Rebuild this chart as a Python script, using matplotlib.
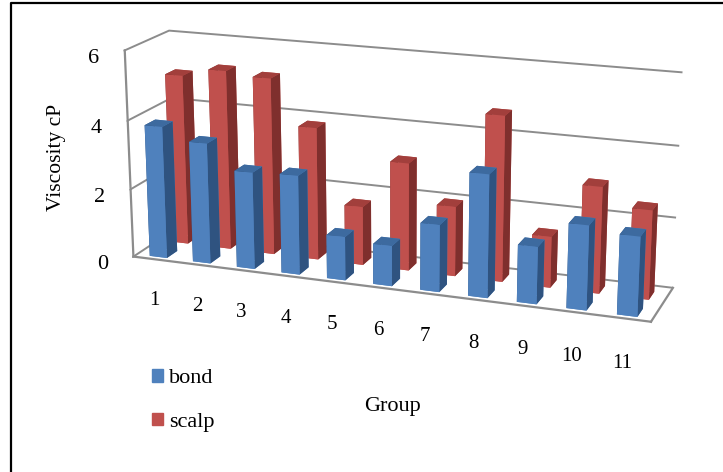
"""Barras 3D de viscosidad por grupo (bond / scalp)."""

import matplotlib

matplotlib.use("Agg")
import matplotlib.pyplot as plt
from matplotlib.lines import Line2D
from matplotlib.patches import Patch

GROUPS = [1, 2, 3, 4, 5, 6, 7, 8, 9, 10, 11]
BOND = [3.85, 3.5, 2.8, 2.85, 1.25, 1.15, 1.9, 3.45, 1.6, 2.35, 2.2]
SCALP = [5.0, 5.25, 5.15, 3.85, 1.7, 3.1, 2.0, 4.7, 1.45, 3.0, 2.5]
Z_TICKS = [0, 2, 4, 6]

BLUE = ("#4F81BD", "#3D6A9F", "#2F5380")
RED = ("#C0504D", "#A23F3C", "#7F2F2D")
GRAY = "#8C8C8C"

plt.rcParams["font.family"] = ["Liberation Serif", "DejaVu Serif"]

fig = plt.figure(figsize=(7.23, 4.72), dpi=100)
ax = fig.add_axes([-0.042, 0.012, 1.16, 1.23], projection="3d", computed_zorder=False)
ax.set_proj_type("persp", focal_length=0.6)
ax.view_init(elev=16.5, azim=-70)
ax.set_box_aspect((553, 100, 222), zoom=1.0)
ax.set_xlim(0.5, 11.5)
ax.set_ylim(0, 1)
ax.set_zlim(0, 6)
ax.patch.set_alpha(0)


def faces(c):
    # orden de bar3d: abajo, arriba, frente, atras, izq, der
    return [c[0], c[1], c[0], c[0], c[2], c[2]]


def bars(values, y0, colors, base_z):
    for i, (g, v) in enumerate(zip(GROUPS, values)):
        b = ax.bar3d(g - 0.2, y0, 0, 0.4, 0.24, v, color=faces(colors), shade=False)
        b.set_zorder(base_z + i)
        b.set_edgecolor("none")


bars(SCALP, 0.58, RED, 10)
bars(BOND, 0.08, BLUE, 30)

ax.set_xticks([])
ax.set_yticks([])
ax.set_zticks(Z_TICKS)
ax.zaxis.set_ticks_position("lower")
ax.tick_params(axis="z", labelsize=16, colors="black", pad=5, length=4, color=GRAY)
for axis in (ax.xaxis, ax.yaxis, ax.zaxis):
    axis.set_pane_color((1, 1, 1, 0))
    axis.pane.set_edgecolor((1, 1, 1, 0))
    axis.line.set_color(GRAY)
    axis.line.set_linewidth(1.6)
    axis._axinfo["grid"]["color"] = GRAY
    axis._axinfo["grid"]["linewidth"] = 1.4

for g in GROUPS:
    ax.text(g, -0.05, -1.2, str(g), fontsize=15, ha="center", va="center")

fig.text(57 / 723, 1 - 157 / 472, "Viscosity cP", rotation=90, fontsize=15.5, ha="center", va="center")
fig.text(393 / 723, 1 - 406 / 472, "Group", fontsize=16, ha="center", va="center")

fig.legend(
    handles=[Patch(color=BLUE[0], label="bond"), Patch(color=RED[0], label="scalp")],
    loc="upper left",
    bbox_to_anchor=(152 / 723, 1 - 369 / 472),
    frameon=False,
    fontsize=16,
    borderpad=0,
    borderaxespad=0,
    handlelength=0.5,
    handleheight=0.5,
    handletextpad=0.25,
    labelspacing=1.1,
)

# marco: solo arriba e izquierda
fig.add_artist(Line2D([11 / 723, 11 / 723, 1], [0, 1 - 3 / 472, 1 - 3 / 472], color="black", linewidth=1.6))

fig.savefig("out.png")
plt.close(fig)
